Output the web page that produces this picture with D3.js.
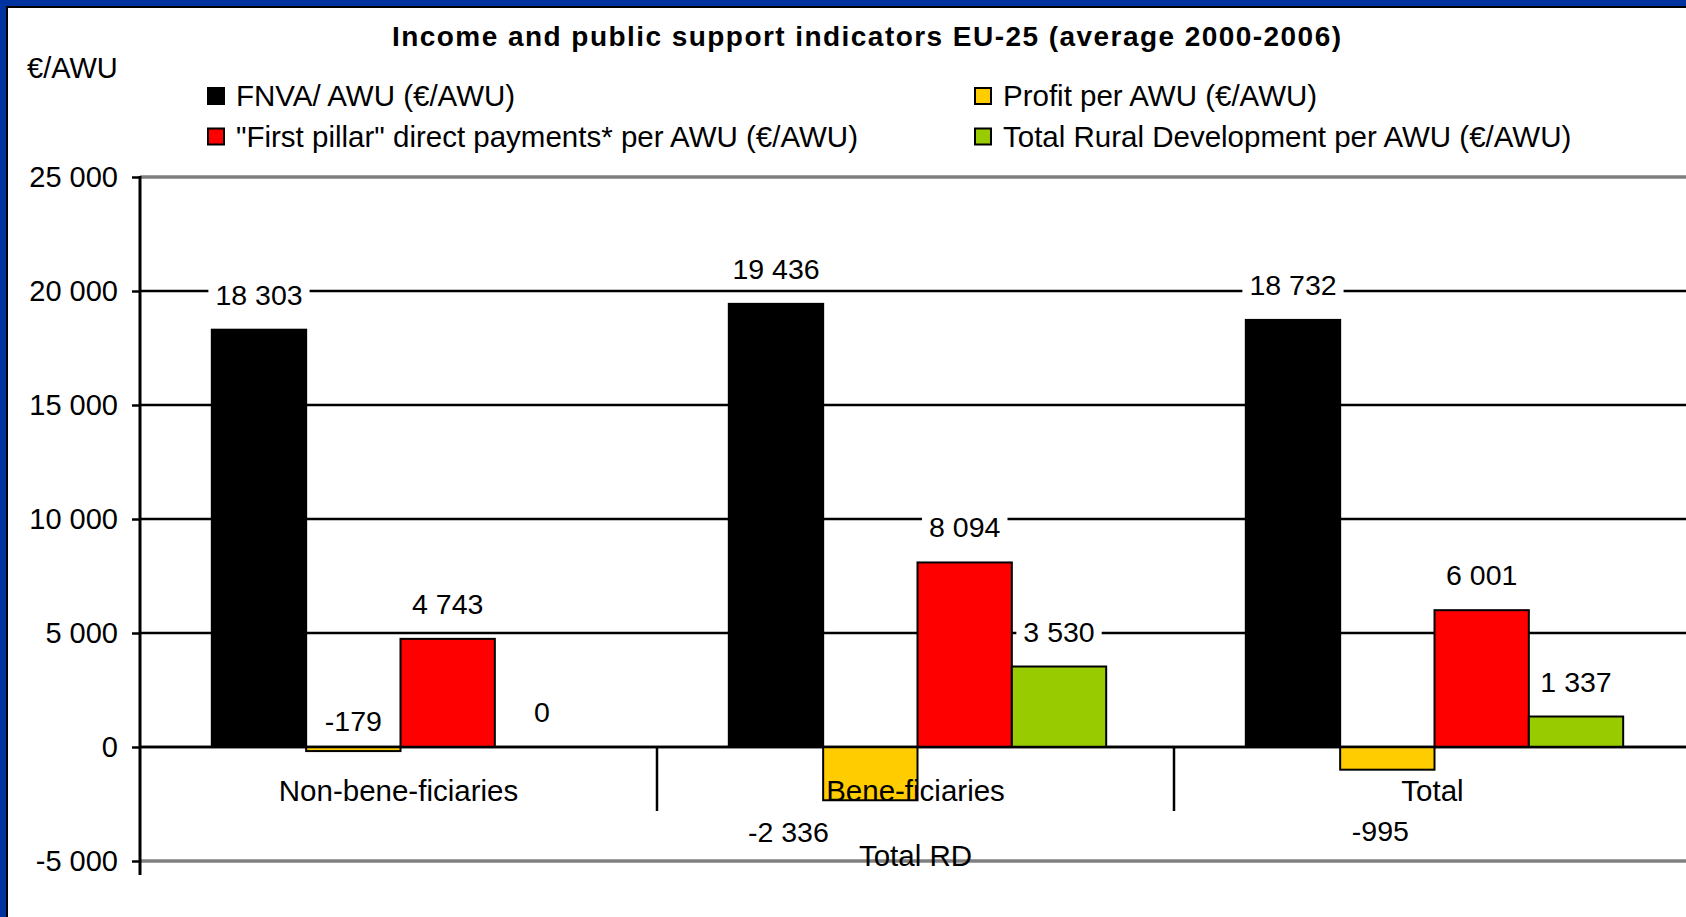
<!DOCTYPE html>
<html>
<head>
<meta charset="utf-8">
<script src="https://cdn.jsdelivr.net/npm/d3@7"></script>
<style>
  html, body { margin: 0; padding: 0; background: #fff; }
  svg { display: block; }
  text { font-family: "Liberation Sans", Arial, sans-serif; fill: #000; }
</style>
</head>
<body>
<svg id="chart" width="1686" height="917"></svg>
<script>
// ---------------- data ----------------
const categories = ["Non-bene-ficiaries", "Bene-ficiaries", "Total"];
const seriesNames = [
  "FNVA/ AWU (€/AWU)",
  "Profit per AWU (€/AWU)",
  "\"First pillar\" direct payments* per AWU (€/AWU)",
  "Total Rural Development per AWU (€/AWU)"
];
const fnvaPerAwu = [18303, 19436, 18732];
const profitPerAwu = [-179, -2336, -995];
const firstPillarPerAwu = [4743, 8094, 6001];
const ruralDevPerAwu = [0, 3530, 1337];
const yTickValues = [-5000, 0, 5000, 10000, 15000, 20000, 25000];
const titleText = "Income and public support  indicators EU-25 (average 2000-2006)";
const unitText = "€/AWU";
const outerCategoryLabel = "Total RD";

// ---------------- styles ----------------
const seriesColors = ["#000000", "#FFCC00", "#FF0000", "#99CC00"];
// legend layout: [column, row] per series
const legendSlots = [[0, 0], [1, 0], [0, 1], [1, 1]];
// manual nudges for the data labels of the profit series (as in the original chart)
const profitLabelNudge = [{dx: 0, dy: -62}, {dx: -82, dy: 0}, {dx: -7, dy: 29}];

const values = [fnvaPerAwu, profitPerAwu, firstPillarPerAwu, ruralDevPerAwu];
const rows = [];
categories.forEach((c, ci) => {
  seriesNames.forEach((s, si) => rows.push({cat: c, ci, series: s, si, value: values[si][ci]}));
});

const fmt = d3.formatLocale({decimal: ".", thousands: " ", grouping: [3], currency: ["", ""], minus: "-"}).format(",");

const svg = d3.select("#chart");
const W = 1686, H = 917;

// frame
svg.append("rect").attr("x", 0).attr("y", 0).attr("width", W).attr("height", H).attr("fill", "#0033A0");
svg.append("rect").attr("x", 6).attr("y", 6).attr("width", W + 20).attr("height", H + 20).attr("fill", "#000");
svg.append("rect").attr("x", 8).attr("y", 8).attr("width", W + 20).attr("height", H + 20).attr("fill", "#fff");

const plot = {left: 140, right: 1691, top: 177, bottom: 861};

const y = d3.scaleLinear().domain([-5000, 25000]).range([plot.bottom, plot.top]);
const x0 = d3.scaleBand().domain(categories).range([plot.left, plot.right]).paddingInner(0).paddingOuter(0);
const x1 = d3.scaleBand().domain(seriesNames).range([0, x0.bandwidth()]).paddingInner(0).paddingOuter(0.74);

// gridlines
const grid = svg.append("g");
grid.selectAll("line").data(yTickValues).join("line")
  .attr("x1", plot.left).attr("x2", plot.right)
  .attr("y1", d => y(d)).attr("y2", d => y(d))
  .attr("stroke", d => (d === 25000 || d === -5000) ? "#808080" : "#000")
  .attr("stroke-width", d => (d === 25000 || d === -5000) ? 3.5 : 2.5);

// bars
svg.append("g").selectAll("rect").data(rows).join("rect")
  .attr("x", d => x0(d.cat) + x1(d.series) + 2)
  .attr("width", x1.bandwidth())
  .attr("y", d => Math.min(y(d.value), y(0)))
  .attr("height", d => Math.abs(y(d.value) - y(0)))
  .attr("fill", d => seriesColors[d.si])
  .attr("stroke", "#000").attr("stroke-width", 2);

// zero line above bars
svg.append("line").attr("x1", plot.left).attr("x2", plot.right)
  .attr("y1", y(0)).attr("y2", y(0)).attr("stroke", "#000").attr("stroke-width", 2.5);

// y axis
const yAxis = svg.append("g").attr("transform", `translate(${plot.left},0)`)
  .call(d3.axisLeft(y).tickValues(yTickValues).tickSize(8).tickSizeOuter(0).tickPadding(14).tickFormat(fmt));
yAxis.select(".domain").remove();
yAxis.selectAll(".tick line").attr("stroke", "#000").attr("stroke-width", 2.5);
yAxis.selectAll(".tick text").style("font-size", "29px").attr("font-family", null);
svg.append("line").attr("x1", plot.left).attr("x2", plot.left)
  .attr("y1", plot.top - 1).attr("y2", plot.bottom + 14).attr("stroke", "#000").attr("stroke-width", 3);

// category axis: separators and labels
svg.append("g").selectAll("line").data(categories.slice(1)).join("line")
  .attr("x1", d => x0(d)).attr("x2", d => x0(d))
  .attr("y1", y(0)).attr("y2", y(0) + 64)
  .attr("stroke", "#000").attr("stroke-width", 2.5);

// data labels (with white background)
const labelG = svg.append("g");
rows.forEach(d => {
  const cx = x0(d.cat) + x1(d.series) + x1.bandwidth() / 2 + 2;
  let cy = d.value >= 0 ? y(d.value) - 35 : y(d.value) + 32;
  let dx = 0, dy = 0;
  if (d.si === 1) { dx = profitLabelNudge[d.ci].dx; dy = profitLabelNudge[d.ci].dy; }
  const g = labelG.append("g").attr("transform", `translate(${cx + dx},${cy + dy})`);
  const t = g.append("text").attr("text-anchor", "middle").attr("dy", "0.35em")
    .style("font-size", "28.5px").text(fmt(d.value));
  const bb = t.node().getBBox();
  g.insert("rect", "text").attr("x", bb.x - 7).attr("y", bb.y - 1)
    .attr("width", bb.width + 14).attr("height", bb.height + 2).attr("fill", "#fff");
});

svg.append("g").selectAll("text").data(categories).join("text")
  .attr("x", d => x0(d) + x0.bandwidth() / 2).attr("y", y(0) + 44)
  .attr("dy", "0.35em").attr("text-anchor", "middle")
  .style("font-size", "29.5px").text(d => d);

svg.append("text").attr("x", x0(categories[1]) + x0.bandwidth() / 2).attr("y", y(0) + 109)
  .attr("dy", "0.35em").attr("text-anchor", "middle").style("font-size", "29.5px").text(outerCategoryLabel);

// title & unit
svg.append("text").attr("x", 392).attr("y", 36).attr("dy", "0.35em").attr("text-anchor", "start")
  .attr("textLength", 949).attr("lengthAdjust", "spacing")
  .style("font-size", "28px").style("font-weight", "bold").text(titleText);
svg.append("text").attr("x", 27).attr("y", 68).attr("dy", "0.35em").style("font-size", "29px").text(unitText);

// legend
const legCols = [207, 974], legRows = [96, 136.5];
const leg = svg.append("g").selectAll("g").data(seriesNames).join("g")
  .attr("transform", (d, i) => `translate(${legCols[legendSlots[i][0]]},${legRows[legendSlots[i][1]]})`);
leg.append("rect").attr("x", 1).attr("y", -8).attr("width", 16).attr("height", 16)
  .attr("fill", (d, i) => seriesColors[i]).attr("stroke", "#000").attr("stroke-width", 2);
leg.append("text").attr("x", 29).attr("dy", "0.35em").style("font-size", "29.5px").text(d => d);
</script>
</body>
</html>
